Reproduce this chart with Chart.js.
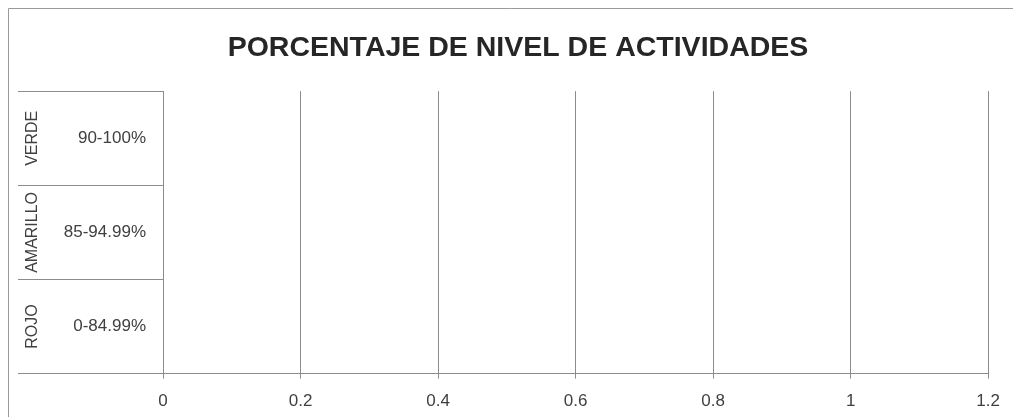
<!DOCTYPE html>
<html>
<head>
<meta charset="utf-8">
<script src="https://cdn.jsdelivr.net/npm/chart.js@4.4.1/dist/chart.umd.min.js"></script>
<style>
  html, body { margin: 0; padding: 0; background: #fff; }
  #wrap { width: 1013px; height: 417px; position: relative; }
</style>
</head>
<body>
<div id="wrap"><canvas id="nivelChart"></canvas></div>
<script>
// datos del gráfico
const grupos = ['VERDE', 'AMARILLO', 'ROJO'];
const rangos = ['90-100%', '85-94.99%', '0-84.99%'];
const valores = [0, 0, 0];
const xTicks = ['0', '0.2', '0.4', '0.6', '0.8', '1', '1.2'];
const barColors = ['#00B050', '#FFC000', '#FF0000'];

const GRID = '#8c8c8c';
const TEXT = '#404040';
const PAD_LEFT = 44;   // centra el título como en el original
const AXIS_X = 163;    // borde izquierdo del área de trazado

// marco del gráfico (borde superior e izquierdo del escaneo)
const marcoPlugin = {
  id: 'marco',
  beforeDraw(chart) {
    const ctx = chart.ctx;
    ctx.save();
    ctx.strokeStyle = '#9a9a9a';
    ctx.lineWidth = 1;
    ctx.beginPath();
    ctx.moveTo(8.5, chart.height);
    ctx.lineTo(8.5, 8.5);
    ctx.lineTo(chart.width, 8.5);
    ctx.stroke();
    ctx.restore();
  }
};

// etiquetas de grupo giradas (VERDE / AMARILLO / ROJO)
const gruposPlugin = {
  id: 'grupos',
  afterDraw(chart) {
    const ctx = chart.ctx;
    const y = chart.scales.y;
    ctx.save();
    ctx.fillStyle = TEXT;
    ctx.font = '16px "Liberation Sans", Arial, sans-serif';
    ctx.textAlign = 'center';
    ctx.textBaseline = 'middle';
    grupos.forEach((g, i) => {
      ctx.save();
      ctx.translate(33, y.getPixelForValue(i));
      ctx.rotate(-Math.PI / 2);
      ctx.fillText(g, 0, 0);
      ctx.restore();
    });
    ctx.restore();
  }
};

new Chart(document.getElementById('nivelChart'), {
  type: 'bar',
  data: {
    labels: rangos,
    datasets: [{ data: valores, backgroundColor: barColors, barPercentage: 0.6 }]
  },
  options: {
    indexAxis: 'y',
    responsive: true,
    maintainAspectRatio: false,
    animation: false,
    layout: { padding: { left: PAD_LEFT, right: 21, top: 0, bottom: -8 } },
    plugins: {
      legend: { display: false },
      tooltip: { enabled: false },
      title: {
        display: true,
        text: 'PORCENTAJE DE NIVEL DE ACTIVIDADES',
        color: '#262626',
        font: { family: '"Liberation Sans", Arial, sans-serif', size: 28.5, weight: 'bold' },
        padding: { top: 31, bottom: 26 }
      }
    },
    scales: {
      x: {
        min: 0, max: 1.2,
        ticks: {
          stepSize: 0.2,
          color: TEXT,
          padding: 13,
          maxRotation: 0,
          font: { family: '"Liberation Sans", Arial, sans-serif', size: 17 },
          callback: (v, i) => xTicks[i]
        },
        grid: { color: GRID, tickLength: 5, tickColor: GRID },
        border: { color: GRID }
      },
      y: {
        // líneas de la tabla de etiquetas a la izquierda
        grid: { drawOnChartArea: false, offset: true, tickLength: 145, color: GRID, tickColor: GRID },
        border: { color: GRID },
        ticks: {
          color: TEXT,
          padding: -128,
          font: { family: '"Liberation Sans", Arial, sans-serif', size: 17 }
        },
        afterFit: s => { s.width = AXIS_X - PAD_LEFT; }
      }
    }
  },
  plugins: [marcoPlugin, gruposPlugin]
});
</script>
</body>
</html>
